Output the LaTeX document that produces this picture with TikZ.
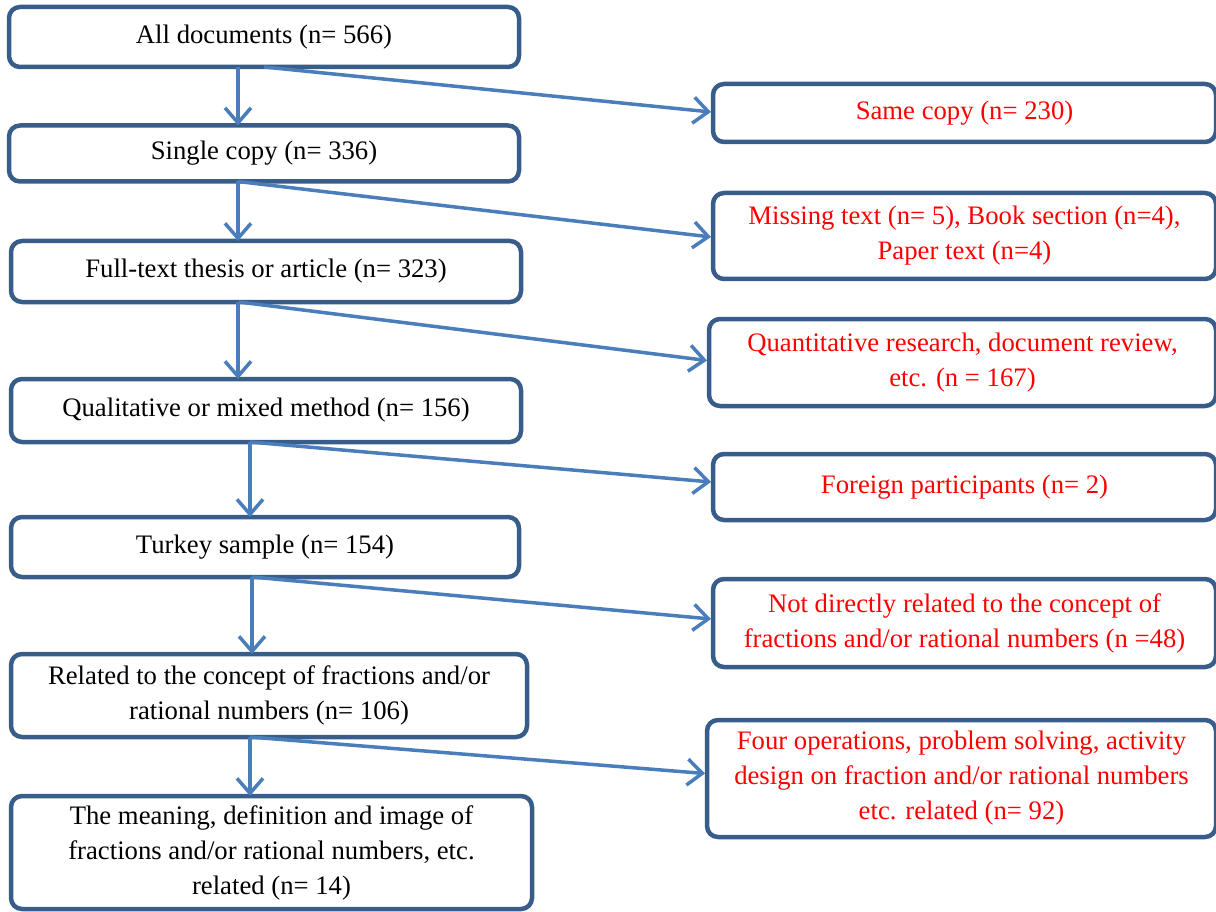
\documentclass[tikz,border=0pt]{standalone}
\usepackage{fontspec}
\setmainfont{Liberation Serif}
\usetikzlibrary{arrows.meta}
\definecolor{boxc}{RGB}{56,93,138}
\definecolor{arrc}{RGB}{74,126,187}
\definecolor{redt}{RGB}{255,0,0}
\tikzset{
  box/.style={draw=boxc, line width=4.5pt, rounded corners=11pt, fill=white,
    inner sep=0pt, outer sep=0pt, align=center,
    font=\fontsize{26.7}{35}\selectfont},
  lbox/.style={box, text=black},
  rbox/.style={box, text=redt},
  arr/.style={draw=arrc, line width=3.5pt,
    -{Straight Barb[length=15pt,width=26pt,line width=3.5pt]}},
}
\begin{document}
\begin{tikzpicture}[x=1pt,y=-1pt]
\useasboundingbox (0,0) rectangle (1216,912);
% left column
\node[lbox, minimum width=510pt, minimum height=60pt] (b1) at (264,37) {All documents (n= 566)};
\node[lbox, minimum width=510pt, minimum height=56pt] (b2) at (264,153.5) {Single copy (n= 336)};
\node[lbox, minimum width=510pt, minimum height=61pt] (b3) at (266,271.5) {Full-text thesis or article (n= 323)};
\node[lbox, minimum width=510pt, minimum height=63pt] (b4) at (266,410.5) {Qualitative or mixed method (n= 156)};
\node[lbox, minimum width=508pt, minimum height=60pt] (b5) at (265,547) {Turkey sample (n= 154)};
\node[lbox, minimum width=516pt, minimum height=83pt] (b6) at (269,695.5) {Related to the concept of fractions and/or\\rational numbers (n= 106)};
\node[lbox, minimum width=521pt, minimum height=113pt] (b7) at (271.5,852.5) {The meaning, definition and image of\\fractions and/or rational numbers, etc.\\related (n= 14)};
% right column
\node[rbox, minimum width=503pt, minimum height=58pt] (r1) at (964.5,113) {Same copy (n= 230)};
\node[rbox, minimum width=503pt, minimum height=86pt] (r2) at (964.5,236) {Missing text (n= 5), Book section (n=4),\\Paper text (n=4)};
\node[rbox, minimum width=507pt, minimum height=87pt] (r3) at (962.5,362.5) {Quantitative research, document review,\\etc. (n = 167)};
\node[rbox, minimum width=503pt, minimum height=66pt] (r4) at (964.5,487) {Foreign participants (n= 2)};
\node[rbox, minimum width=503pt, minimum height=88pt] (r5) at (964.5,623) {Not directly related to the concept of\\fractions and/or rational numbers (n =48)};
\node[rbox, minimum width=509pt, minimum height=117pt] (r6) at (961.5,778.5) {Four operations, problem solving, activity\\design on fraction and/or rational numbers\\etc. related (n= 92)};
% down arrows
\draw[arr] (b1.south -| 238,0) -- (b2.north -| 238,0);
\draw[arr] (b2.south -| 238,0) -- (b3.north -| 238,0);
\draw[arr] (b3.south -| 238,0) -- (b4.north -| 238,0);
\draw[arr] (b4.south -| 250,0) -- (b5.north -| 250,0);
\draw[arr] (b5.south -| 252,0) -- (b6.north -| 252,0);
\draw[arr] (b6.south -| 250,0) -- (b7.north -| 250,0);
% side arrows
\draw[arr] (b1.south -| 264,0) -- ([xshift=-2pt,yshift=1pt]r1.west);
\draw[arr] (b2.south -| 238,0) -- ([xshift=-2pt,yshift=-1pt]r2.west);
\draw[arr] (b3.south -| 239,0) -- ([xshift=-2pt,yshift=2pt]r3.west);
\draw[arr] (b4.south -| 250,0) -- ([xshift=-2pt,yshift=5pt]r4.west);
\draw[arr] (b5.south -| 252,0) -- ([xshift=-2pt,yshift=4pt]r5.west);
\draw[arr] (b6.south -| 250,0) -- ([xshift=-2pt,yshift=5pt]r6.west);
\end{tikzpicture}
\end{document}
